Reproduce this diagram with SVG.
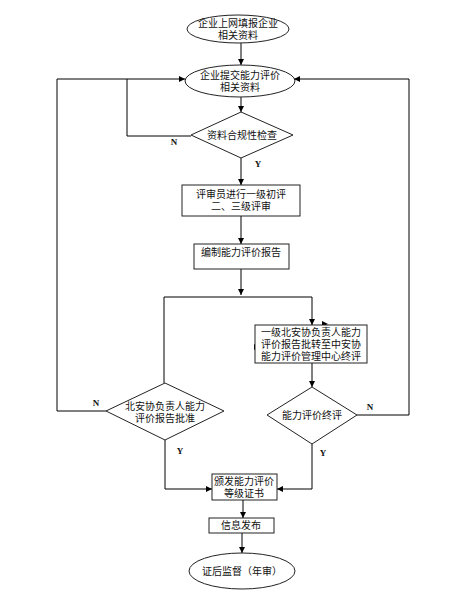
<svg xmlns="http://www.w3.org/2000/svg" width="468" height="615" viewBox="0 0 468 615">
<defs>
<marker id="ah" markerWidth="6" markerHeight="6" refX="6" refY="3" orient="auto" markerUnits="userSpaceOnUse"><path d="M0,0 L6,3 L0,6 z" fill="#000"/></marker>
<style>
.n{fill:#fff;stroke:#222;stroke-width:1}
.t{font-family:"Liberation Serif","Noto Sans CJK SC",serif;font-size:10px;fill:#111;text-anchor:middle}
.yn{font-family:"Liberation Serif",serif;font-size:9px;font-weight:bold;fill:#111;text-anchor:middle}
.c{fill:none;stroke:#000;stroke-width:1}
</style>
</defs>
<rect width="468" height="615" fill="#fff"/>
<g id="connectors">
<line class="c" x1="241" y1="43" x2="241" y2="65" marker-end="url(#ah)"/>
<line class="c" x1="241" y1="97" x2="241" y2="112" marker-end="url(#ah)"/>
<polyline class="c" points="191,136 127,136 127,79 185,79" marker-end="url(#ah)"/>
<line class="c" x1="241" y1="158" x2="241" y2="185" marker-end="url(#ah)"/>
<line class="c" x1="241" y1="216" x2="241" y2="244" marker-end="url(#ah)"/>
<line class="c" x1="241" y1="269" x2="241" y2="295" marker-end="url(#ah)"/>
<polyline class="c" points="164,383 164,297 312,297 312,325" marker-end="url(#ah)"/>
<polyline class="c" points="106,411 57,411 57,79 127,79"/>
<polyline class="c" points="357,415 409,415 409,79 294,79" marker-end="url(#ah)"/>
<line class="c" x1="312" y1="363" x2="312" y2="387" marker-end="url(#ah)"/>
<polyline class="c" points="165,440 165,489 212,489" marker-end="url(#ah)"/>
<polyline class="c" points="312,444 312,489 277,489" marker-end="url(#ah)"/>
<line class="c" x1="243" y1="500" x2="243" y2="518" marker-end="url(#ah)"/>
<line class="c" x1="242" y1="533" x2="242" y2="553" marker-end="url(#ah)"/>
<path d="M322,321 L328,324 L322,327 z" fill="#000"/>
<path d="M254,344 L260,347 L254,350 z" fill="#000"/>
<text class="yn" x="174" y="145">N</text>
<text class="yn" x="258" y="167">Y</text>
<text class="yn" x="96" y="406">N</text>
<text class="yn" x="180" y="454">Y</text>
<text class="yn" x="370" y="410">N</text>
<text class="yn" x="323" y="456">Y</text>
</g>
<g id="start">
<ellipse class="n" cx="238" cy="29" rx="51" ry="14"/>
<text class="t" x="238" y="27">企业上网填报企业</text>
<text class="t" x="238" y="39">相关资料</text>
</g>
<g id="submit">
<ellipse class="n" cx="240" cy="81" rx="55" ry="16"/>
<text class="t" x="240" y="79">企业提交能力评价</text>
<text class="t" x="240" y="91">相关资料</text>
</g>
<g id="check">
<polygon class="n" points="241,112 293,135 241,158 191,135"/>
<text class="t" x="242" y="139">资料合规性检查</text>
</g>
<g id="review">
<rect class="n" x="182" y="185" width="118" height="31"/>
<text class="t" x="241" y="198">评审员进行一级初评</text>
<text class="t" x="241" y="210">二、三级评审</text>
</g>
<g id="report">
<rect class="n" x="194" y="244" width="95" height="25"/>
<text class="t" x="241" y="256">编制能力评价报告</text>
</g>
<g id="transfer">
<rect class="n" x="255" y="325" width="112" height="38"/>
<text class="t" x="311" y="336">一级北安协负责人能力</text>
<text class="t" x="311" y="348">评价报告批转至中安协</text>
<text class="t" x="311" y="360">能力评价管理中心终评</text>
</g>
<g id="approve">
<polygon class="n" points="165,383 224,411 165,440 106,411"/>
<text class="t" x="165" y="410">北安协负责人能力</text>
<text class="t" x="165" y="422">评价报告批准</text>
</g>
<g id="final">
<polygon class="n" points="312,387 357,415 312,444 267,415"/>
<text class="t" x="312" y="419">能力评价终评</text>
</g>
<g id="certificate">
<rect class="n" x="212" y="474" width="65" height="26"/>
<text class="t" x="244" y="485">颁发能力评价</text>
<text class="t" x="244" y="497">等级证书</text>
</g>
<g id="publish">
<rect class="n" x="209" y="518" width="65" height="15"/>
<text class="t" x="241" y="529">信息发布</text>
</g>
<g id="supervise">
<ellipse class="n" cx="242" cy="571" rx="53" ry="18"/>
<text class="t" x="242" y="575">证后监督（年审）</text>
</g>
</svg>
